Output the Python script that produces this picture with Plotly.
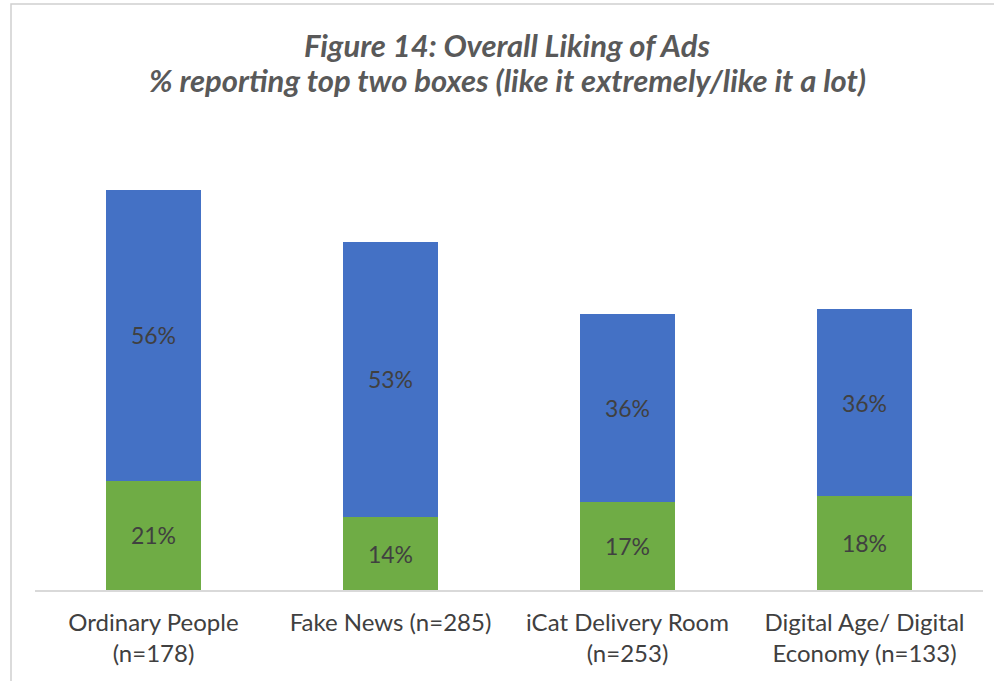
import plotly.graph_objects as go

# Survey results: share of respondents in the top two boxes, by ad
categories = [
    "Ordinary People<br>(n=178)",
    "Fake News (n=285)",
    "iCat Delivery Room<br>(n=253)",
    "Digital Age/ Digital<br>Economy (n=133)",
]
like_extremely = [21, 14, 17, 18]   # bottom segment (green)
like_a_lot = [56, 53, 36, 36]       # top segment (blue)

title_lines = [
    "Figure 14: Overall Liking of Ads",
    "% reporting top two boxes (like it extremely/like it a lot)",
]

FONT = "Lato, Open Sans, sans-serif"
label_font = dict(family=FONT, size=23, color="#404040")

fig = go.Figure()
fig.add_trace(go.Bar(
    x=categories, y=like_extremely,
    text=[f"{v}%" for v in like_extremely],
    textposition="inside", insidetextanchor="middle",
    textfont=label_font,
    marker=dict(color="#6FAC45", line=dict(width=0)),
    width=0.405, name="Like it extremely",
))
fig.add_trace(go.Bar(
    x=categories, y=like_a_lot,
    text=[f"{v}%" for v in like_a_lot],
    textposition="inside", insidetextanchor="middle",
    textfont=label_font,
    marker=dict(color="#4471C5", line=dict(width=0)),
    width=0.405, name="Like it a lot",
))

# Light frame around the chart
fig.add_shape(type="rect", xref="paper", yref="paper",
              x0=(11 - 35) / 948, x1=(1010 - 35) / 948,
              y0=(590 - 700) / 416, y1=(590 - 4) / 416,
              line=dict(color="#D0D0D0", width=1.5), fillcolor="rgba(0,0,0,0)",
              layer="below")

# Two-line title, placed as separate annotations for precise spacing
for line, ypix in zip(title_lines, [45, 80]):
    fig.add_annotation(
        text=f"<b><i>{line}</i></b>", showarrow=False,
        xref="paper", yref="paper", x=(507 - 35) / 948, y=(590 - ypix) / 416,
        xanchor="center", yanchor="middle",
        font=dict(family=FONT, size=31, color="#595959"),
    )

fig.update_layout(
    barmode="stack",
    width=994, height=681,
    margin=dict(l=35, r=11, t=174, b=91),
    paper_bgcolor="white", plot_bgcolor="white",
    showlegend=False,
    uniformtext=dict(mode=False),
    xaxis=dict(
        showline=True, linecolor="#D9D9D9", linewidth=1.5,
        ticks="", showgrid=False, ticklabelstandoff=10,
        tickfont=dict(family=FONT, size=24, color="#404040"),
    ),
    yaxis=dict(range=[0, 80], visible=False, showgrid=False),
)

fig.write_html("out.html")
